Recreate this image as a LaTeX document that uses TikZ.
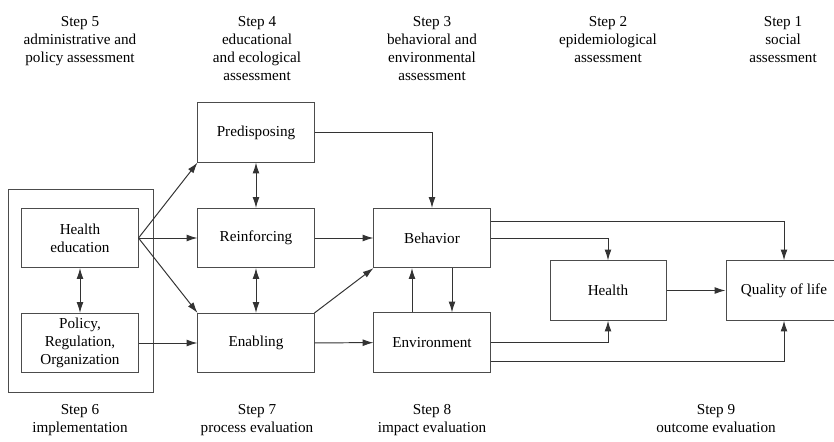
\documentclass[tikz,border=0pt]{standalone}
\usepackage{fontspec}
\setmainfont{Liberation Serif}
\usetikzlibrary{arrows.meta,positioning,calc}

\begin{document}
\begin{tikzpicture}[x=0.025cm, y=-0.025cm,
		every node/.style={font=\fontsize{10.8}{12.8}\selectfont},
		stageBox/.style={
				draw=black!70, line width=0.7pt, shape=rectangle,
				minimum width=2.9cm, minimum height=1.48cm,
				inner sep=2pt, align=center
			},
		stepLabel/.style={align=center, anchor=north, inner sep=0pt},
		flowarrow/.style={draw=black!80, line width=0.7pt, -{Latex[length=2.7mm,width=1.7mm]}},
		twoarrow/.style={draw=black!80, line width=0.7pt, {Latex[length=2.7mm,width=1.7mm]}-{Latex[length=2.7mm,width=1.7mm]}}
	]
	\useasboundingbox (0,0) rectangle (834,441);

	% Assessment steps (top)
	\node[stepLabel] (S5) at (80,16) {Step 5\\administrative and\\policy assessment};
	\node[stepLabel] (S4) at (257,16) {Step 4\\educational\\and ecological\\assessment};
	\node[stepLabel] (S3) at (432,16) {Step 3\\behavioral and\\environmental\\assessment};
	\node[stepLabel] (S2) at (608,16) {Step 2\\epidemiological\\assessment};
	\node[stepLabel] (S1) at (783,16) {Step 1\\social\\assessment};

	% Evaluation steps (bottom)
	\node[stepLabel] (S6) at (80,404.5) {Step 6\\implementation};
	\node[stepLabel] (S7) at (257,404.5) {Step 7\\process evaluation};
	\node[stepLabel] (S8) at (432,404.5) {Step 8\\impact evaluation};
	\node[stepLabel] (S9) at (716,404.5) {Step 9\\outcome evaluation};

	% Implementation frame
	\draw[black!70, line width=0.7pt] (8,189) rectangle (153,392);

	% Boxes
	\node[stageBox] (edu) at (80,238) {Health\\education};
	\node[stageBox] (pol) at (80,343) {Policy,\\Regulation,\\Organization};
	\node[stageBox] (pre) at (256,132.5) {Predisposing};
	\node[stageBox] (rei) at (256,238) {Reinforcing};
	\node[stageBox] (ena) at (256,343) {Enabling};
	\node[stageBox] (beh) at (432,238) {Behavior};
	\node[stageBox] (env) at (432,342.5) {Environment};
	\node[stageBox] (hea) at (608,290.5) {Health};
	\node[stageBox] (qol) at (784,290.5) {Quality of life};

	% Connectors
	\draw[twoarrow] (edu) -- (pol);
	\draw[twoarrow] (pre) -- (rei);
	\draw[twoarrow] (rei) -- (ena);
	\draw[flowarrow] (edu.east) -- (pre.south west);
	\draw[flowarrow] (edu.east) -- (rei.west);
	\draw[flowarrow] (edu.east) -- (ena.north west);
	\draw[flowarrow] (pol) -- (ena);
	\draw[flowarrow] (pre.east) -| (beh.north);
	\draw[flowarrow] (rei) -- (beh);
	\draw[flowarrow] (ena.north east) -- (beh.south west);
	\draw[flowarrow] (ena) -- (env);
	\draw[flowarrow] ($(env.north)+(-20,0)$) -- ($(beh.south)+(-20,0)$);
	\draw[flowarrow] ($(beh.south)+(20,0)$) -- ($(env.north)+(20,0)$);
	\draw[flowarrow] ($(beh.east)+(0,-17)$) -| (qol.north);
	\draw[flowarrow] (beh.east) -| (hea.north);
	\draw[flowarrow] (env.east) -| (hea.south);
	\draw[flowarrow] ($(env.east)+(0,18.5)$) -| (qol.south);
	\draw[flowarrow] (hea) -- (qol);
\end{tikzpicture}
\end{document}
